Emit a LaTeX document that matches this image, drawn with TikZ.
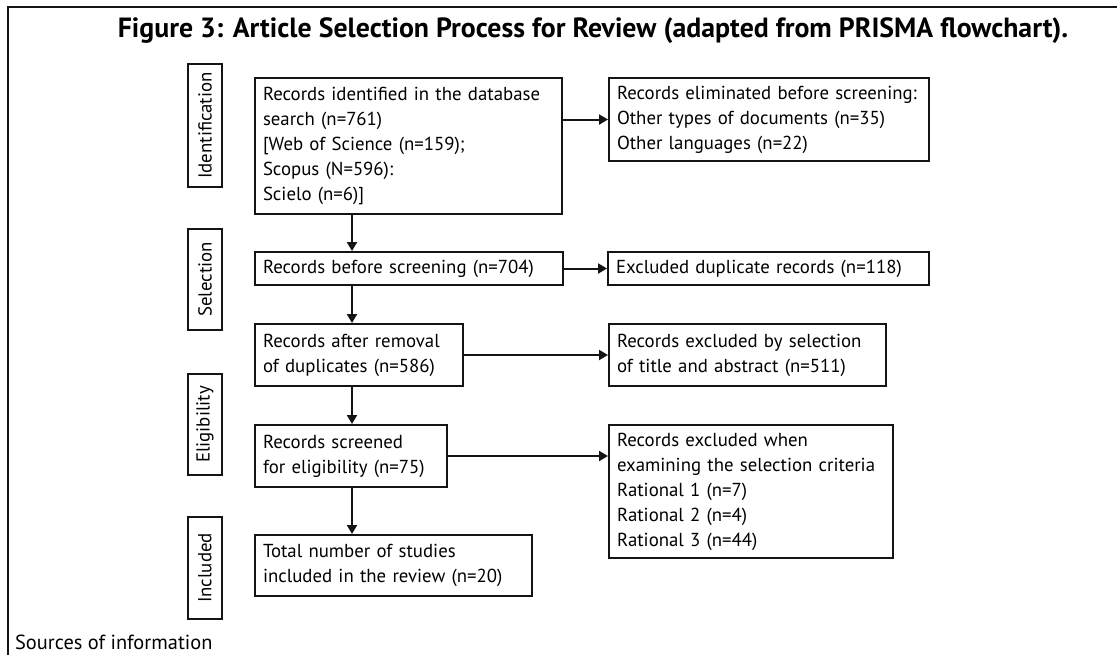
\documentclass[tikz,border=0pt]{standalone}
\usepackage{fontspec}
\setmainfont{PT Sans}
\usepackage{tikz}
\usetikzlibrary{
  arrows.meta, positioning, calc
}
\usepackage{xcolor}
\definecolor{prismaink}{RGB}{20,20,20}
\newcommand{\bodyfont}{\fontsize{9.4}{12.5}\selectfont}

\tikzset{
  recbox/.style={draw=prismaink, line width=1pt, anchor=north west, align=left,
    inner xsep=4pt, inner ysep=2pt, font=\bodyfont},
  phasebox/.style={draw=prismaink, line width=1pt, rotate=90, minimum height=17pt,
    inner sep=0pt, font=\bodyfont},
  flowarrow/.style={draw=prismaink, line width=1pt, -{Triangle[length=4.5pt,width=5pt]}}
}

\begin{document}
\begin{tikzpicture}[x=0.5pt, y=-0.5pt]
    \useasboundingbox (0,0) rectangle (1117,655);
    \draw[prismaink, line width=0.7pt] (8,655) -- (8,7) -- (1117,7);

    \node[font=\bfseries\fontsize{13.9}{16}\selectfont] (title) at (593,31)
      {Figure 3: Article Selection Process for Review (adapted from PRISMA flowchart).};

    \node[phasebox, minimum width=61.5pt] (phident) at (205,125.5) {Identification};
    \node[phasebox, minimum width=50.5pt] (phsel) at (205,279.5) {Selection};
    \node[phasebox, minimum width=50.5pt] (phelig) at (205,424.5) {Eligibility};
    \node[phasebox, minimum width=51pt] (phincl) at (205,568) {Included};

    \node[recbox, text width=145.5pt, minimum height=68pt] (ident) at (254,77) {
      Records identified in the database\\
      search (n=761)\\
      {[}Web of Science (n=159);\\
      Scopus (N=596):\\
      Scielo (n=6)]};
    \node[recbox, text width=152pt, minimum height=41.5pt] (elim) at (608,77) {
      Records eliminated before screening:\\
      Other types of documents (n=35)\\
      Other languages (n=22)};
    \node[recbox, text width=146pt, minimum height=16.5pt] (before) at (254,251) {
      Records before screening (n=704)};
    \node[recbox, text width=152.5pt, minimum height=16.5pt] (dupl) at (607,251) {
      Excluded duplicate records (n=118)};
    \node[recbox, text width=96pt, minimum height=31pt] (after) at (254,323) {
      Records after removal\\
      of duplicates (n=586)};
    \node[recbox, text width=130.5pt, minimum height=31pt] (titleabs) at (608,323) {
      Records excluded by selection\\
      of title and abstract (n=511)};
    \node[recbox, text width=88pt, minimum height=31pt] (screened) at (254,424) {
      Records screened\\
      for eligibility (n=75)};
    \node[recbox, text width=134pt, minimum height=66.5pt] (criteria) at (608,424) {
      Records excluded when\\
      examining the selection criteria\\
      Rational 1 (n=7)\\
      Rational 2 (n=4)\\
      Rational 3 (n=44)};
    \node[recbox, text width=130.5pt, minimum height=30.5pt] (total) at (254,534) {
      Total number of studies\\
      included in the review (n=20)};

    \node[anchor=west, font=\fontsize{10.2}{12}\selectfont] (sources) at (8,642) {Sources of information};

    \coordinate (spine) at (352,0);
    \draw[flowarrow] (ident.south -| spine) -- (before.north -| spine);
    \draw[flowarrow] (before.south -| spine) -- (after.north -| spine);
    \draw[flowarrow] (after.south -| spine) -- (screened.north -| spine);
    \draw[flowarrow] (screened.south -| spine) -- (total.north -| spine);

    \draw[flowarrow] (ident.east |- elim.west) -- (elim.west);
    \draw[flowarrow] (before.east) -- (before.east -| dupl.west);
    \draw[flowarrow] (after.east) -- (after.east -| titleabs.west);
    \draw[flowarrow] (screened.east) -- (screened.east -| criteria.west);
\end{tikzpicture}
\end{document}
